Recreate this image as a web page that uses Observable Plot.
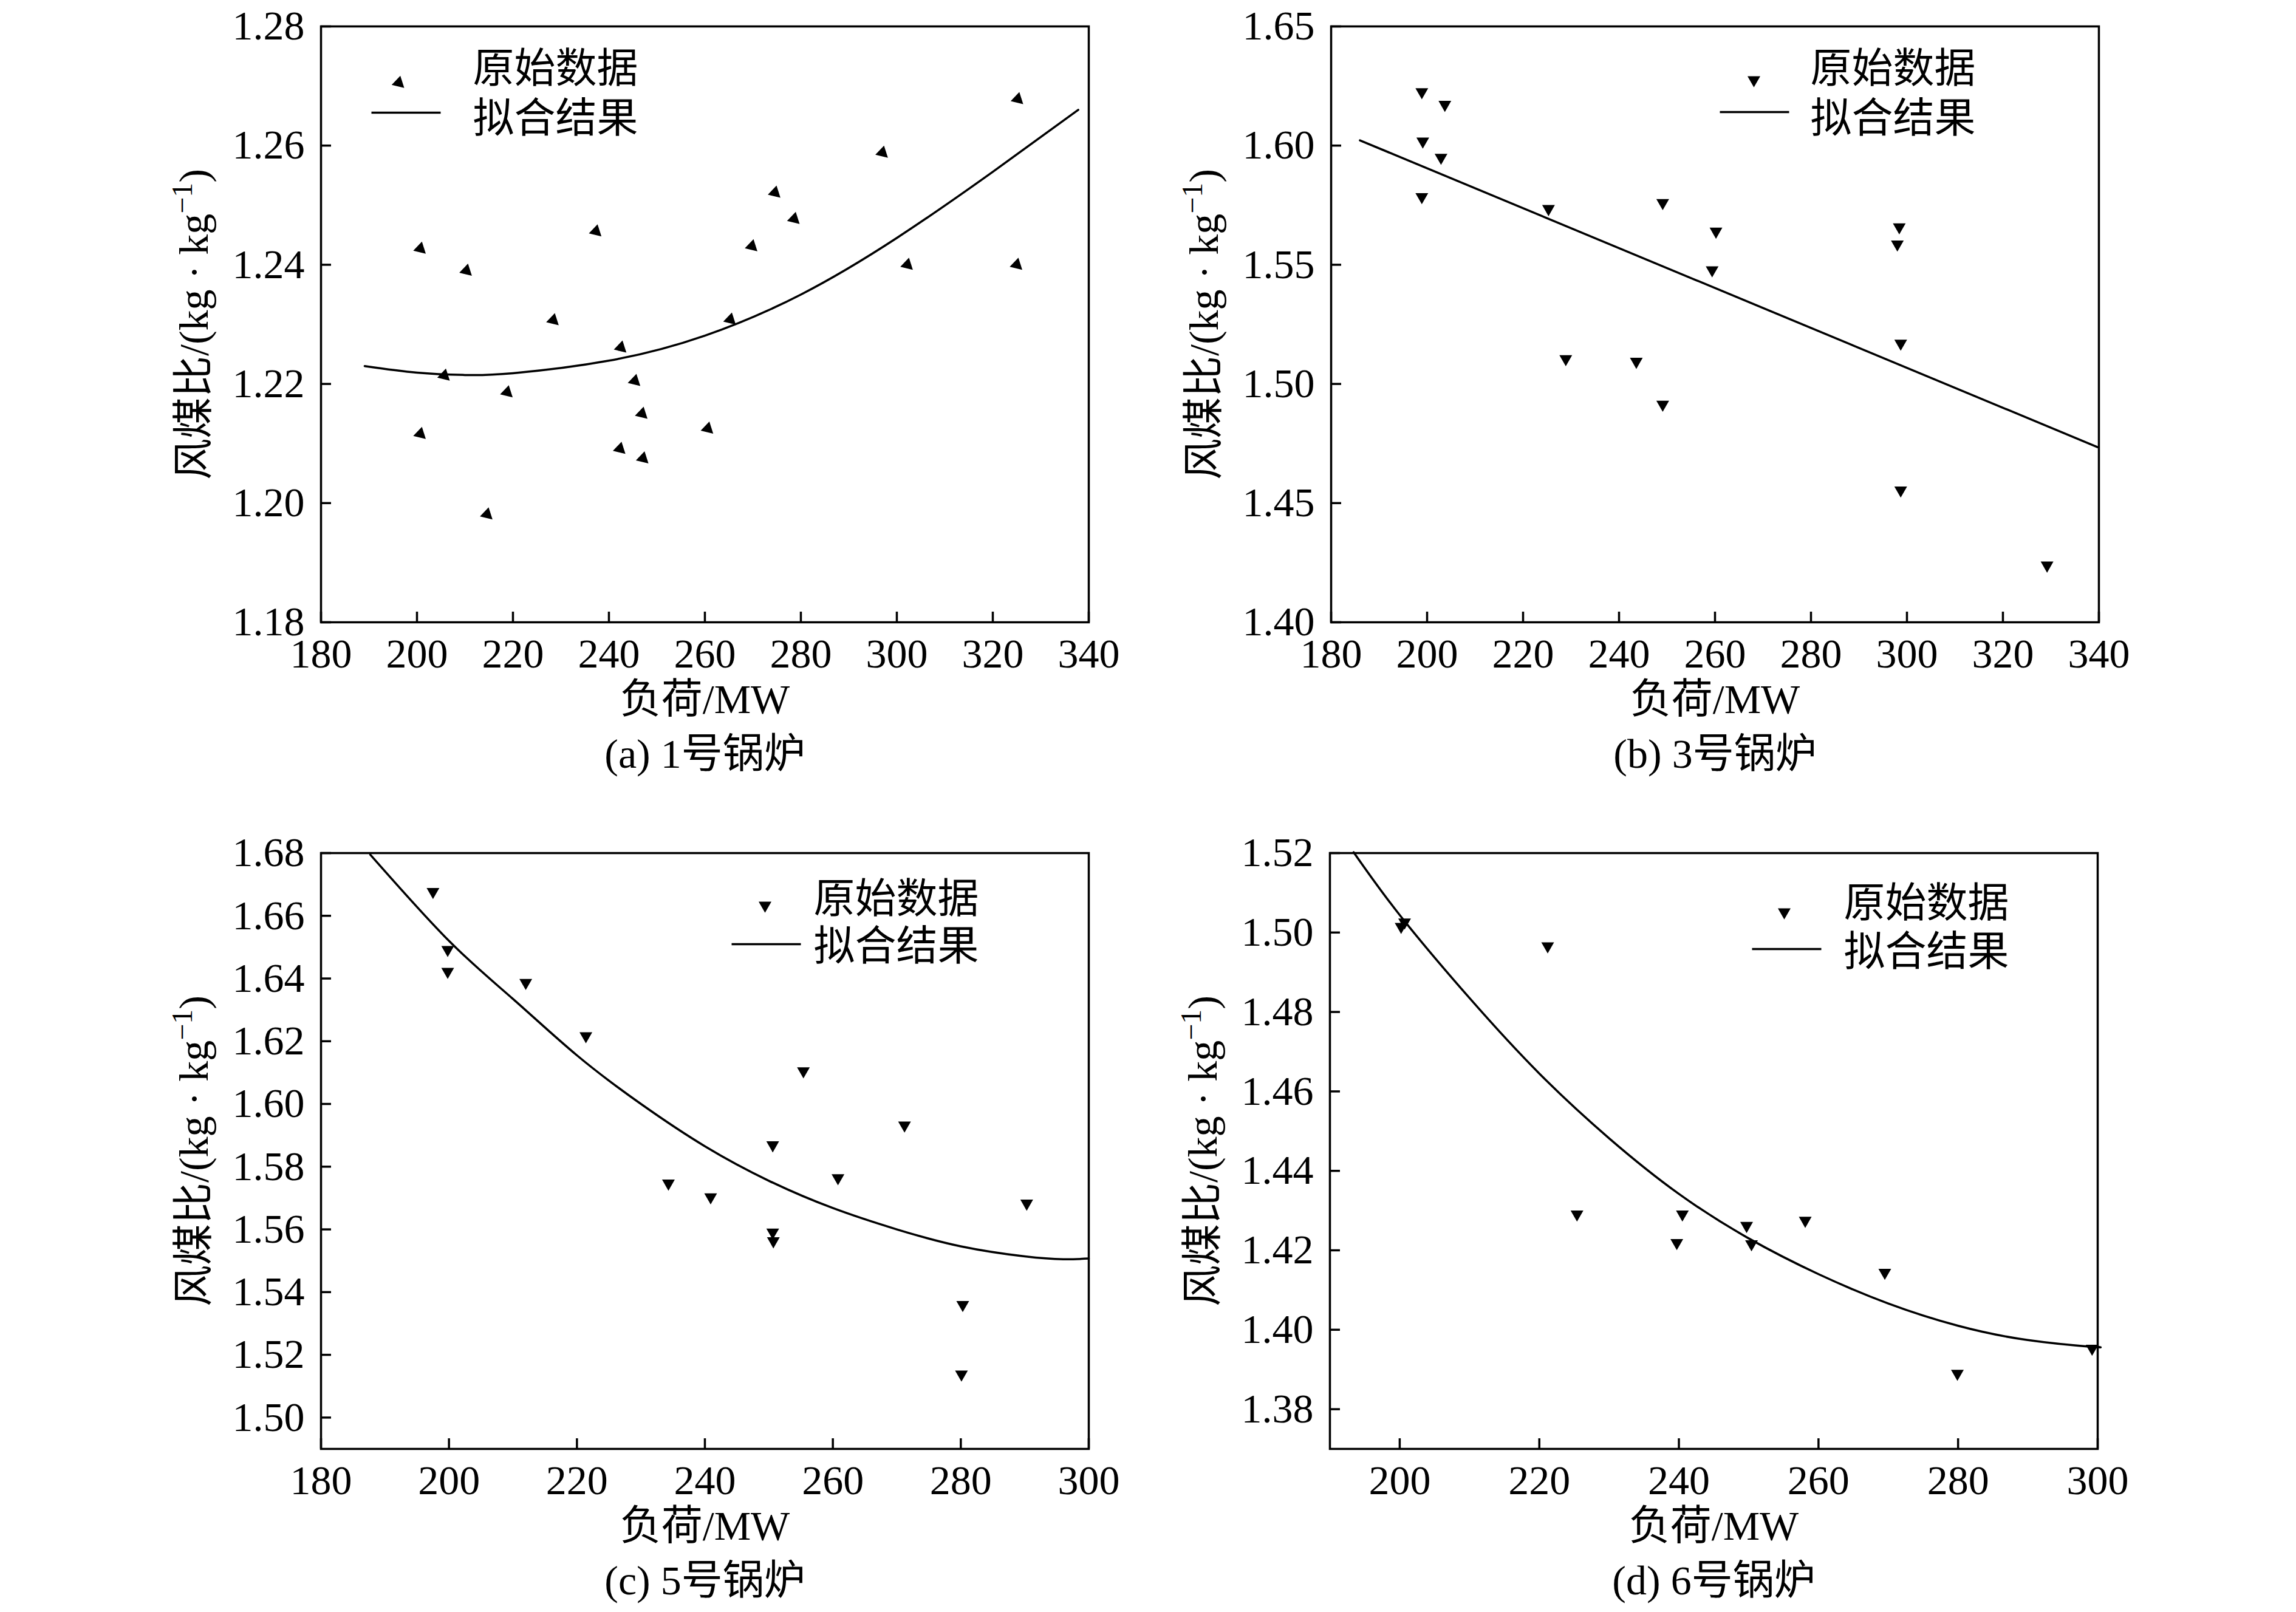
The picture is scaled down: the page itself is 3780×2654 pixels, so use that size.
<!DOCTYPE html>
<html>
<head>
<meta charset="utf-8">
<script src="https://cdn.jsdelivr.net/npm/d3@7"></script>
<script src="https://cdn.jsdelivr.net/npm/@observablehq/plot@0.6"></script>
<style>
  body { margin: 0; background: #fff; }
  #grid { display: grid; grid-template-columns: 1890px 1890px; grid-template-rows: 1327px 1327px; width: 3780px; height: 2654px; }
  #grid svg { display: block; }
</style>
</head>
<body>
<div id="grid"></div>
<script>
// ---------------- DATA ----------------
// (a) boiler 1
const loadA  = [200.7, 210.3, 205.7, 200.7, 214.6, 218.8, 228.4, 237.3, 242.5, 245.4, 246.9, 242.3, 247.1, 260.6, 265.3, 269.8, 274.6, 278.6, 297.0, 302.2, 325.2, 325.0];
const ratioA = [1.2427, 1.2390, 1.2214, 1.2116, 1.1981, 1.2186, 1.2307, 1.2456, 1.2261, 1.2205, 1.2150, 1.2091, 1.2075, 1.2125, 1.2308, 1.2431, 1.2521, 1.2477, 1.2588, 1.2400, 1.2678, 1.2400];
const fitLoadA  = [189.1, 200, 210, 220, 240, 260, 280, 300, 320, 337.8];
const fitRatioA = [1.2230, 1.2219, 1.2215, 1.2218, 1.2239, 1.2281, 1.2350, 1.2445, 1.2556, 1.2660];

// (b) boiler 3
const loadB  = [198.9, 203.7, 199.1, 202.9, 198.9, 225.3, 249.1, 260.2, 259.4, 298.4, 298.0, 298.7, 228.9, 243.6, 249.1, 298.7, 329.2];
const ratioB = [1.6225, 1.6172, 1.6018, 1.5950, 1.5785, 1.5735, 1.5760, 1.5640, 1.5478, 1.5658, 1.5586, 1.5170, 1.5105, 1.5094, 1.4914, 1.4554, 1.4239];
const fitLoadB  = [186.0, 339.7];
const fitRatioB = [1.6022, 1.4735];

// (c) boiler 5
const loadC  = [197.5, 199.8, 199.8, 212.0, 221.4, 255.4, 250.6, 271.2, 234.3, 240.9, 260.8, 250.6, 250.7, 290.3, 280.3, 280.1];
const ratioC = [1.6677, 1.6492, 1.6422, 1.6387, 1.6217, 1.6105, 1.5869, 1.5932, 1.5747, 1.5703, 1.5764, 1.5591, 1.5563, 1.5683, 1.5360, 1.5138];
const fitLoadC  = [187.7, 200, 210, 220, 230, 240, 250, 260, 270, 280, 290, 296, 300];
const fitRatioC = [1.6795, 1.6520, 1.6335, 1.6155, 1.6000, 1.5865, 1.5755, 1.5668, 1.5600, 1.5546, 1.5514, 1.5505, 1.5507];

// (d) boiler 6
const loadD  = [200.2, 200.7, 221.2, 225.4, 240.5, 239.7, 249.7, 250.4, 258.1, 269.5, 279.9, 299.2];
const ratioD = [1.5015, 1.5026, 1.4966, 1.4291, 1.4291, 1.4219, 1.4262, 1.4216, 1.4275, 1.4144, 1.3890, 1.3953];
const fitLoadD  = [193.4, 200, 210, 220, 230, 240, 250, 260, 270, 280, 290, 299.2, 300];
const fitRatioD = [1.5202, 1.5044, 1.4835, 1.4645, 1.4482, 1.4342, 1.4230, 1.4140, 1.4066, 1.4010, 1.3974, 1.3957, 1.3957];

// ticks
const xTicks180_340 = [180, 200, 220, 240, 260, 280, 300, 320, 340];
const xTicks180_300 = [180, 200, 220, 240, 260, 280, 300];
const xTicks200_300 = [200, 220, 240, 260, 280, 300];
const yTicksA = [1.18, 1.20, 1.22, 1.24, 1.26, 1.28];
const yTicksB = [1.40, 1.45, 1.50, 1.55, 1.60, 1.65];
const yTicksC = [1.50, 1.52, 1.54, 1.56, 1.58, 1.60, 1.62, 1.64, 1.66, 1.68];
const yTicksD = [1.38, 1.40, 1.42, 1.44, 1.46, 1.48, 1.50, 1.52];

// text
const xLabel = "负荷/MW";
const yLabelMain = "风煤比/(kg · kg";
const yLabelSup = "−1";
const yLabelEnd = ")";
const legendPoints = "原始数据";
const legendFit = "拟合结果";
const captions = ["(a) 1号锅炉", "(b) 3号锅炉", "(c) 5号锅炉", "(d) 6号锅炉"];

// ---------------- STYLE ----------------
const FONT = '"Liberation Serif", "Noto Sans CJK SC", serif';
const FS = 68;
const SW = 3.5;
const FRAME_W = 1264, FRAME_H = 981, TICK = 17;
const fullY = yLabelMain + yLabelSup + yLabelEnd;

const triTilt = { draw(c) { c.moveTo(2.6, -11.7); c.lineTo(-11.7, 3.3); c.lineTo(9.0, 8.3); c.closePath(); } };
const triDown = { draw(c) { c.moveTo(-10.5, -6.1); c.lineTo(10.5, -6.1); c.lineTo(0, 12.2); c.closePath(); } };
const legendLine = { draw(c) { c.moveTo(-57, 0); c.lineTo(57, 0); } };

const zip = (xs, ys) => xs.map((x, i) => ({x, y: ys[i]}));

function panel(cfg) {
  return Plot.plot({
    width: 1890, height: 1327,
    marginLeft: cfg.m[0], marginTop: cfg.m[1], marginRight: cfg.m[2], marginBottom: cfg.m[3],
    x: {domain: cfg.xDomain},
    y: {domain: cfg.yDomain},
    style: {fontFamily: FONT, fontSize: FS + "px", color: "black", background: "white", overflow: "visible"},
    marks: [
      Plot.axisX({ticks: cfg.xTicks, tickSize: 0, tickPadding: 26, tickFormat: d3.format("d"), label: null, fontSize: FS}),
      Plot.axisY({ticks: cfg.yTicks, tickSize: 0, tickPadding: 27, tickFormat: d3.format(".2f"), label: null, fontSize: FS}),
      Plot.tickX(cfg.xTicks, {x: d => d, insetTop: FRAME_H - TICK, stroke: "black", strokeWidth: SW}),
      Plot.tickY(cfg.yTicks, {y: d => d, insetRight: FRAME_W - TICK, stroke: "black", strokeWidth: SW}),
      Plot.frame({stroke: "black", strokeWidth: SW}),
      Plot.line(cfg.fit, {x: "x", y: "y", curve: cfg.curve, stroke: "black", strokeWidth: SW}),
      Plot.dot(cfg.pts, {x: "x", y: "y", symbol: cfg.symbol, fill: "black", stroke: "none", r: 6}),
      // legend
      Plot.dot([legendPoints], {frameAnchor: "top-left", dx: cfg.leg.marker[0], dy: cfg.leg.marker[1], symbol: cfg.symbol, fill: "black", stroke: "none", r: 6}),
      Plot.dot([legendFit], {frameAnchor: "top-left", dx: cfg.leg.line[0], dy: cfg.leg.line[1], symbol: legendLine, fill: "none", stroke: "black", strokeWidth: SW, r: 6}),
      Plot.text([legendPoints], {text: d => d, frameAnchor: "top-left", dx: cfg.leg.text[0], dy: cfg.leg.text[1], textAnchor: "start", lineAnchor: "middle", fontSize: FS, fill: "black"}),
      Plot.text([legendFit], {text: d => d, frameAnchor: "top-left", dx: cfg.leg.text[0], dy: cfg.leg.text[2], textAnchor: "start", lineAnchor: "middle", fontSize: FS, fill: "black"}),
      // axis titles and caption
      Plot.text([xLabel], {text: d => d, frameAnchor: "bottom", dy: 128, lineAnchor: "middle", fontSize: FS, fill: "black"}),
      Plot.text([fullY], {text: d => d, frameAnchor: "left", dx: -208, rotate: -90, lineAnchor: "middle", fontSize: FS, fill: "black"}),
      Plot.text([cfg.caption], {text: d => d, frameAnchor: "bottom", dy: 218, lineAnchor: "middle", fontSize: FS, fill: "black"})
    ]
  });
}

// superscript in the y title, re-centred after rebuilding it
function fixYTitle(svg) {
  d3.select(svg).selectAll("text").filter(function () { return this.textContent === fullY; }).each(function () {
    const t = d3.select(this);
    t.text(null);
    t.append("tspan").text(yLabelMain);
    t.append("tspan").attr("dy", -26).attr("font-size", Math.round(FS * 0.7)).text(yLabelSup);
    t.append("tspan").attr("dy", 26).text(yLabelEnd);
    this.setAttribute("text-anchor", "start");
    const len = this.getComputedTextLength();
    this.setAttribute("x", -len / 2);
  });
}

const grid = document.getElementById("grid");
const configs = [
  {
    pts: zip(loadA, ratioA), fit: zip(fitLoadA, fitRatioA), curve: "natural",
    xDomain: [180, 340], yDomain: [1.18, 1.28], xTicks: xTicks180_340, yTicks: yTicksA,
    symbol: triTilt, m: [528, 43, 98, 303], caption: captions[0],
    leg: {marker: [128, 93], line: [140, 142], text: [250, 71, 153]}
  },
  {
    pts: zip(loadB, ratioB), fit: zip(fitLoadB, fitRatioB), curve: "linear",
    xDomain: [180, 340], yDomain: [1.40, 1.65], xTicks: xTicks180_340, yTicks: yTicksB,
    symbol: triDown, m: [301, 43, 325, 303], caption: captions[1],
    leg: {marker: [696, 88], line: [697, 141], text: [789, 71, 153]}
  },
  {
    pts: zip(loadC, ratioC), fit: zip(fitLoadC, fitRatioC), curve: "natural",
    xDomain: [180, 300], yDomain: [1.49, 1.68], xTicks: xTicks180_300, yTicks: yTicksC,
    symbol: triDown, m: [528, 77, 98, 269], caption: captions[2],
    leg: {marker: [731, 86], line: [733, 150], text: [811, 77, 155]}
  },
  {
    pts: zip(loadD, ratioD), fit: zip(fitLoadD, fitRatioD), curve: "natural",
    xDomain: [190, 300], yDomain: [1.37, 1.52], xTicks: xTicks200_300, yTicks: yTicksD,
    symbol: triDown, m: [299, 77, 327, 269], caption: captions[3],
    leg: {marker: [748, 97], line: [752, 158], text: [846, 84, 164]}
  }
];
for (const cfg of configs) {
  const svg = panel(cfg);
  grid.append(svg);
  fixYTitle(svg);
}
</script>
</body>
</html>
